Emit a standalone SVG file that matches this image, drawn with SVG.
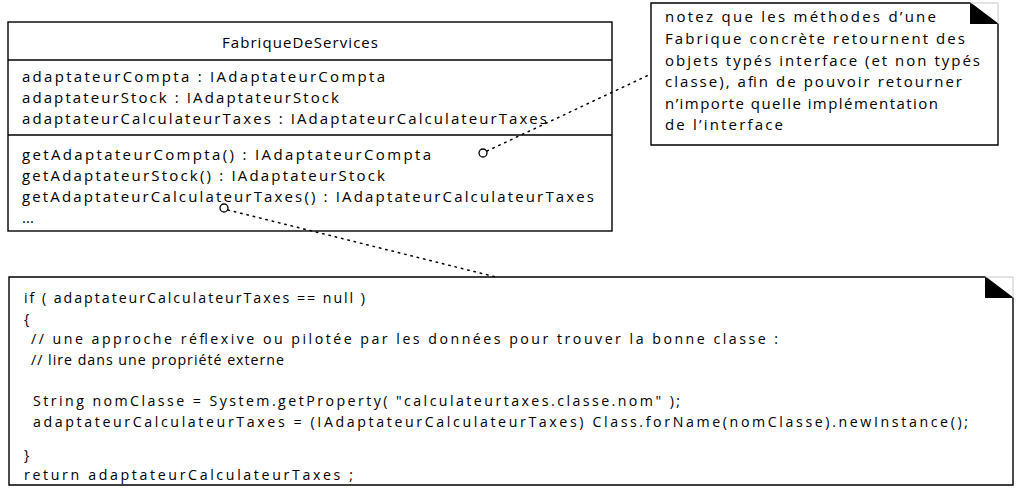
<svg xmlns="http://www.w3.org/2000/svg" width="1016" height="499" viewBox="0 0 1016 499">
<style>
.t{font-family:"Open Sans","Noto Sans",sans-serif;font-size:15px;fill:#000}
.c{font-family:"Open Sans","Noto Sans",sans-serif;font-size:14.2px;fill:#000}
.box{fill:#fff;stroke:#000;stroke-width:1.4}
.ln{stroke:#000;stroke-width:1.4}
.flap{fill:#000}
.ghost{fill:none;stroke:#c8c8c8;stroke-width:1}
.dot{fill:none;stroke:#000;stroke-width:1.5;stroke-dasharray:1.5 5;stroke-linecap:round}
.anchor{fill:#fff;stroke:#000;stroke-width:1.3}
</style>
<rect width="1016" height="499" fill="#fff"/>
<g id="FabriqueDeServices">
<rect class="box" x="8" y="22" width="604" height="209"/>
<line class="ln" x1="8" y1="60" x2="612" y2="60"/>
<line class="ln" x1="8" y1="135" x2="612" y2="135"/>
<text class="t" x="222" y="48" textLength="156" lengthAdjust="spacing">FabriqueDeServices</text>
<text class="t" x="22" y="82" textLength="363" lengthAdjust="spacing">adaptateurCompta : IAdaptateurCompta</text>
<text class="t" x="22" y="103" textLength="317" lengthAdjust="spacing">adaptateurStock : IAdaptateurStock</text>
<text class="t" x="22" y="124" textLength="525" lengthAdjust="spacing">adaptateurCalculateurTaxes : IAdaptateurCalculateurTaxes</text>
<text class="t" x="22" y="160" textLength="409" lengthAdjust="spacing">getAdaptateurCompta() : IAdaptateurCompta</text>
<text class="t" x="22" y="181" textLength="363" lengthAdjust="spacing">getAdaptateurStock() : IAdaptateurStock</text>
<text class="t" x="22" y="202" textLength="572" lengthAdjust="spacing">getAdaptateurCalculateurTaxes() : IAdaptateurCalculateurTaxes</text>
<text class="t" x="22" y="223">...</text>
</g>
<g id="note-interface">
<path class="box" d="M651,3 H970 L998,24 V145 H651 Z"/>
<path class="ghost" d="M970,3 H998 V24"/>
<path class="flap" d="M970,3 L998,24 H970 Z"/>
<text class="t" x="665" y="22" textLength="271" lengthAdjust="spacing">notez que les méthodes d’une</text>
<text class="t" x="665" y="44" textLength="300" lengthAdjust="spacing">Fabrique concrète retournent des</text>
<text class="t" x="665" y="65.5" textLength="315" lengthAdjust="spacing">objets typés interface (et non typés</text>
<text class="t" x="665" y="87" textLength="297" lengthAdjust="spacing">classe), afin de pouvoir retourner</text>
<text class="t" x="665" y="108.5" textLength="273" lengthAdjust="spacing">n’importe quelle implémentation</text>
<text class="t" x="665" y="130" textLength="118" lengthAdjust="spacing">de l’interface</text>
</g>
<g id="note-code">
<path class="box" d="M9,277 H985 L1013,298 V485 H9 Z"/>
<path class="ghost" d="M985,277 H1013 V298"/>
<path class="flap" d="M985,277 L1013,298 H985 Z"/>
<text class="c" x="24" y="303" textLength="341" lengthAdjust="spacing">if ( adaptateurCalculateurTaxes == null )</text>
<text class="c" x="24" y="324">{</text>
<text class="c" x="31" y="344" textLength="747" lengthAdjust="spacing">// une approche réflexive ou pilotée par les données pour trouver la bonne classe :</text>
<text class="c" x="31" y="365" textLength="253" lengthAdjust="spacing">// lire dans une propriété externe</text>
<text class="c" x="33" y="406" textLength="647" lengthAdjust="spacing">String nomClasse = System.getProperty( "calculateurtaxes.classe.nom" );</text>
<text class="c" x="33" y="427" textLength="935" lengthAdjust="spacing">adaptateurCalculateurTaxes = (IAdaptateurCalculateurTaxes) Class.forName(nomClasse).newInstance();</text>
<text class="c" x="24" y="460">}</text>
<text class="c" x="24" y="480" textLength="329" lengthAdjust="spacing">return adaptateurCalculateurTaxes ;</text>
</g>
<g id="connectors">
<line class="dot" x1="487" y1="151" x2="651" y2="74"/>
<circle class="anchor" cx="483" cy="153" r="4"/>
<line class="dot" x1="228" y1="210" x2="496" y2="277"/>
<circle class="anchor" cx="224" cy="208" r="4"/>
</g>
</svg>
